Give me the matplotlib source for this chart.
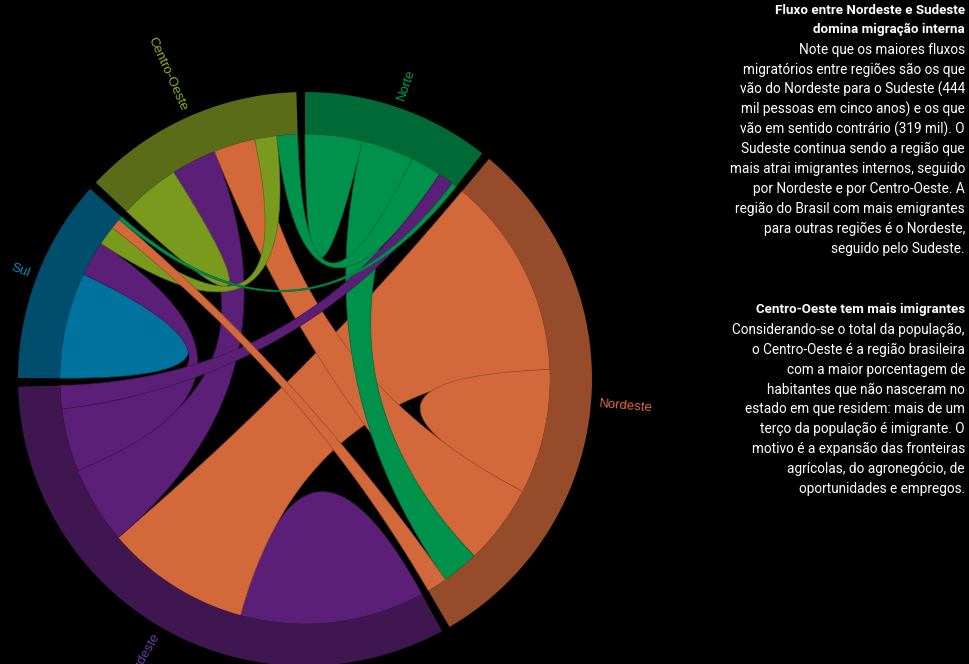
import numpy as np
import matplotlib.pyplot as plt
from matplotlib.patches import Polygon

# Regions in drawing order (clockwise from the top)
regioes = ["Norte", "Nordeste", "Sudeste", "Sul", "Centro-Oeste"]

# Migration flows in thousand people (row = origin, column = destination)
norte = [126, 115, 34, 11, 68]
nordeste = [81, 274, 444, 44, 176]
sudeste = [51, 319, 406, 138, 171]
sul = [8, 23, 77, 233, 42]
centro_oeste = [46, 91, 100, 48, 133]

cor_corda = ["#00914b", "#d3693b", "#5b1f77", "#00729e", "#7a9a1e"]
cor_arco = ["#006a36", "#964b2b", "#3f1650", "#004e6e", "#5a6c17"]
cor_rotulo = ["#00a052", "#e06d3a", "#6a3fa0", "#1a84b8", "#8fb02a"]

texto1 = ["Fluxo entre Nordeste e Sudeste",
          "domina migração interna",
          "Note que os maiores fluxos",
          "migratórios entre regiões são os que",
          "vão do Nordeste para o Sudeste (444",
          "mil pessoas em cinco anos) e os que",
          "vão em sentido contrário (319 mil). O",
          "Sudeste continua sendo a região que",
          "mais atrai imigrantes internos, seguido",
          "por Nordeste e por Centro-Oeste. A",
          "região do Brasil com mais emigrantes",
          "para outras regiões é o Nordeste,",
          "seguido pelo Sudeste."]
texto2 = ["Centro-Oeste tem mais imigrantes",
          "Considerando-se o total da população,",
          "o Centro-Oeste é a região brasileira",
          "com a maior porcentagem de",
          "habitantes que não nasceram no",
          "estado em que residem: mais de um",
          "terço da população é imigrante. O",
          "motivo é a expansão das fronteiras",
          "agrícolas, do agronegócio, de",
          "oportunidades e empregos."]

# layout (pixels)
cx, cy = 305, 379
r_in, r_out = 245, 287
pad = 0.03


def ponto(r, a):
    return cx + r * np.sin(a), cy - r * np.cos(a)


def arco(r, a0, a1, n=80):
    a = np.linspace(a0, a1, n)
    return np.column_stack([cx + r * np.sin(a), cy - r * np.cos(a)])


def quadratica(p0, p2, n=80):
    # quadratic curve with the control point on the centre (d3.ribbon)
    t = np.linspace(0, 1, n)[:, None]
    p0 = np.array(p0)
    p2 = np.array(p2)
    c = np.array([cx, cy])
    return (1 - t) ** 2 * p0 + 2 * (1 - t) * t * c + t ** 2 * p2


def layout_chord(m, pad):
    # same idea as d3.chord().padAngle(pad).sortSubgroups(descending)
    n = len(m)
    totais = m.sum(axis=1)
    k = (2 * np.pi - pad * n) / totais.sum()
    grupos = []
    sub = {}
    x = 0.0
    for i in range(n):
        x0 = x
        for j in sorted(range(n), key=lambda j: -m[i, j]):
            a0 = x
            x += m[i, j] * k
            sub[(i, j)] = (a0, x, m[i, j])
        grupos.append((x0, x))
        x += pad
    cordas = []
    for i in range(n):
        for j in range(i, n):
            s = sub[(i, j)]
            t = sub[(j, i)]
            if s[2] < t[2]:
                cordas.append(((j, i), t, s))
            else:
                cordas.append(((i, j), s, t))
    # biggest chords first, so the thin ones stay on top
    cordas.sort(key=lambda c: -(c[1][2] + c[2][2]))
    return grupos, cordas


matriz = np.array([norte, nordeste, sudeste, sul, centro_oeste], dtype=float)
grupos, cordas = layout_chord(matriz, pad)

fig = plt.figure(figsize=(9.7, 6.64), dpi=100, facecolor="black")
ax = fig.add_axes([0, 0, 1, 1])
ax.set_facecolor("black")
ax.set_xlim(0, 970)
ax.set_ylim(664, 0)
ax.axis("off")

# ribbons
for (i, j), s, t in cordas:
    if i == j:
        pts = np.vstack([arco(r_in, s[0], s[1]),
                         quadratica(ponto(r_in, s[1]), ponto(r_in, s[0]))])
    else:
        pts = np.vstack([arco(r_in, s[0], s[1]),
                         quadratica(ponto(r_in, s[1]), ponto(r_in, t[0])),
                         arco(r_in, t[0], t[1]),
                         quadratica(ponto(r_in, t[1]), ponto(r_in, s[0]))])
    ax.add_patch(Polygon(pts, closed=True, facecolor=cor_corda[i],
                         edgecolor=cor_arco[i], linewidth=0.5))

# outer bands and labels
for i, (a0, a1) in enumerate(grupos):
    pts = np.vstack([arco(r_out, a0, a1), arco(r_in, a1, a0)])
    ax.add_patch(Polygon(pts, closed=True, facecolor=cor_arco[i], edgecolor="none"))

    meio = (a0 + a1) / 2
    x, y = ponto(r_out + 8, meio)
    graus = np.degrees(meio)
    if graus < 180:
        rot, ha = 90 - graus, "left"
    else:
        rot, ha = 270 - graus, "right"
    ax.text(x, y, regioes[i], color=cor_rotulo[i], fontsize=9.5,
            family="Liberation Sans", rotation=rot, rotation_mode="anchor",
            ha=ha, va="center")

# text on the right
for n, linha in enumerate(texto1):
    negrito = n < 2
    ax.text(965, 10 + 19.9 * n, linha, color="white",
            fontsize=9.65 if negrito else 9.85, family="Roboto",
            weight="bold" if negrito else "normal", ha="right", va="center")
for n, linha in enumerate(texto2):
    negrito = n < 1
    ax.text(965, 310 + 19.9 * n, linha, color="white",
            fontsize=9.65 if negrito else 9.85, family="Roboto",
            weight="bold" if negrito else "normal", ha="right", va="center")

fig.savefig("out.png", dpi=100, facecolor="black")
